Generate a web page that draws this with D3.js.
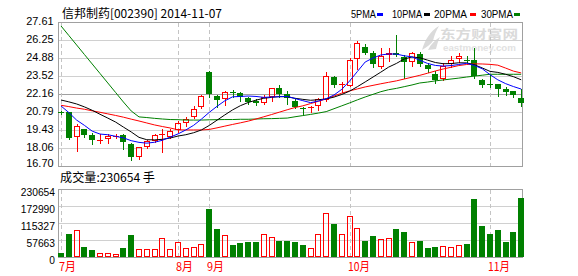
<!DOCTYPE html>
<html><head><meta charset="utf-8">
<script src="https://cdn.jsdelivr.net/npm/d3@7"></script>
<style>body{margin:0;background:#fff;} svg{display:block}</style>
</head><body><svg id="c" width="578" height="276"></svg>
<script>
// ---------- data ----------
const title = "信邦制药[002390] 2014-11-07";
const volTitle = "成交量:230654 手";
const priceTicks = [16.70, 18.06, 19.43, 20.79, 22.16, 23.52, 24.88, 26.25, 27.61];
const priceTickLabels = ["16.70","18.06","19.43","20.79","22.16","23.52","24.88","26.25","27.61"];
const volTicks = [0, 57663, 115327, 172990, 230654];
const volTickLabels = ["0","57663","115327","172990","230654"];
const monthLabels = ["7月","8月","9月","10月","11月"];
const monthStart = [0, 15, 19, 37, 55];
const legendNames = ["5PMA","10PMA","20PMA","30PMA"];

const open  = [20.79,20.79,18.92,19.50,19.03,18.60,18.72,18.92,19.05,18.36,17.36,18.16,18.62,19.03,18.90,19.43,19.94,20.39,21.15,23.82,
               22.00,21.75,22.28,22.21,21.85,21.62,21.45,21.95,22.61,22.13,21.62,21.10,21.08,21.28,21.69,23.46,22.83,22.79,24.80,25.74,
               25.26,24.20,25.09,25.26,24.96,24.57,25.19,24.36,23.67,23.30,24.41,24.82,24.75,24.70,23.24,22.92,22.94,22.56,22.36,21.87];
const high  = [20.89,20.82,19.88,19.52,19.18,19.15,19.10,19.10,19.10,18.42,18.15,18.65,19.10,19.53,19.48,20.13,20.39,21.25,22.08,23.87,
               22.05,22.38,22.44,22.28,21.95,21.78,22.05,22.62,22.84,22.36,21.75,21.17,21.27,21.85,23.83,23.55,23.08,24.88,26.18,25.92,
               25.40,25.66,25.62,26.60,25.10,25.35,25.30,24.50,23.90,24.48,25.02,25.24,25.00,25.62,23.30,23.60,22.95,22.65,22.42,22.55];
const low   = [20.62,18.77,17.86,18.92,18.39,18.47,18.47,18.80,17.99,17.16,17.25,18.06,18.55,17.78,18.85,19.30,19.75,20.35,21.07,21.95,
               21.15,21.32,21.95,21.62,21.40,21.32,21.40,21.65,21.95,21.41,21.10,20.66,20.81,20.95,21.60,22.69,22.30,22.75,24.08,25.20,
               24.22,24.15,24.68,25.04,23.40,24.25,24.30,23.85,22.99,23.20,24.20,24.58,24.56,23.38,22.65,22.65,22.04,22.10,21.95,21.22];
const close = [20.76,18.84,19.71,19.07,18.69,18.64,18.97,18.97,18.50,17.41,18.13,18.59,19.05,19.10,19.35,19.94,20.26,21.02,21.98,22.16,
               21.70,22.31,22.24,21.95,21.57,21.50,21.95,22.59,22.13,21.82,21.16,21.05,21.14,21.80,23.51,22.85,22.88,24.72,26.01,25.28,
               24.45,25.07,25.26,25.10,24.56,25.23,24.46,24.05,23.20,24.25,24.70,25.06,24.70,23.50,22.84,22.90,22.52,22.30,22.10,21.50];
const volume = [12400,77000,90500,32800,22600,14700,14700,11300,29400,73500,
                28300,26000,26000,65600,26000,52000,29400,35000,45200,161700,
                95000,75800,39600,46400,49700,49700,79100,69000,53100,53100,
                49700,39600,29400,79100,148100,110800,79100,140200,99500,53100,
                70100,59900,65600,93800,83700,52000,53100,29400,32800,38400,
                35000,41800,43000,195600,104000,76900,90500,49700,83700,199000];
const ma5  = [21.25,20.75,20.18,19.78,19.34,19.12,19.07,18.95,18.83,18.62,18.49,18.43,18.50,18.65,18.89,19.13,19.43,19.78,20.25,20.76,
              21.22,21.64,21.94,21.97,22.00,21.97,21.90,21.93,21.95,21.97,21.81,21.65,21.50,21.62,21.80,22.08,22.51,23.14,23.86,24.58,
              24.88,25.11,25.19,25.18,25.05,24.97,24.71,24.47,24.32,24.27,24.31,24.39,24.48,24.32,24.07,23.62,23.23,22.94,22.72,22.53];
const ma10 = [21.70,21.56,21.40,21.18,20.92,20.62,20.33,20.03,19.65,19.28,18.87,18.69,18.68,18.72,18.82,18.97,19.07,19.22,19.43,19.77,
              20.17,20.57,20.95,21.27,21.51,21.69,21.83,21.90,21.96,21.95,21.83,21.75,21.68,21.72,21.78,21.92,22.12,22.37,22.71,23.07,
              23.44,23.81,24.19,24.47,24.81,24.96,24.90,24.72,24.54,24.45,24.46,24.52,24.51,24.37,24.13,23.87,23.79,23.65,23.47,23.23];
const ma20 = [21.30,21.20,21.09,21.00,20.88,20.77,20.65,20.53,20.40,20.25,20.11,19.96,19.81,19.69,19.58,19.44,19.43,19.43,19.43,19.47,
              19.59,19.72,19.85,19.97,20.10,20.26,20.43,20.60,20.78,20.96,21.13,21.26,21.43,21.60,21.78,22.00,22.22,22.39,22.54,22.69,
              22.81,22.93,23.04,23.15,23.29,23.43,23.57,23.73,23.90,24.05,24.18,24.31,24.39,24.44,24.43,24.40,24.34,24.12,23.89,23.75];
const ma30 = [27.31,26.59,25.87,25.15,24.43,23.71,22.99,22.27,21.55,20.87,20.42,20.37,20.31,20.26,20.22,20.21,20.18,20.18,20.18,20.20,
              20.21,20.22,20.22,20.24,20.24,20.26,20.28,20.29,20.31,20.33,20.43,20.52,20.61,20.71,20.82,21.04,21.26,21.48,21.71,21.93,
              22.13,22.33,22.48,22.58,22.71,22.84,22.99,23.06,23.15,23.22,23.29,23.36,23.44,23.51,23.58,23.65,23.65,23.65,23.65,23.65];

// ---------- layout ----------
const L = 58, R = 522, PT = 22, PB = 166, VT = 189, VB = 257;
const RED = "#ff0000", GREEN = "#008000";
const GRID = "#d0d0d0", FRAME = "#a0a0a0";
const svg = d3.select("#c");
const x = d3.scaleLinear().domain([0, close.length - 1]).range([61, 521.2]);
const yP = d3.scaleLinear().domain([16.70, 27.61]).range([PB, PT]);
const yV = d3.scaleLinear().domain([0, 230654]).range([VB, VT]);
const cx = i => Math.round(x(i));
const numFont = "'Liberation Sans', Arial, sans-serif";
const cjkFont = "'Noto Sans CJK SC', 'Liberation Sans', sans-serif";

// watermark
const wm = svg.append("g").attr("fill", "#dadada");
wm.append("path").attr("d", "M422,50 C425,40 430,31 439,26 C436,31 434,36 433,41 C431,44 427,47 422,50 Z");
wm.append("path").attr("d", "M428,50 C431,44 435,40 440,37 C438,41 437,45 436,49 Z");
wm.append("text").attr("x", 440).attr("y", 38.5).attr("font-family", cjkFont).attr("font-weight", "bold")
  .attr("font-size", 12).attr("textLength", 78).attr("lengthAdjust", "spacingAndGlyphs").text("东方财富网");
wm.append("text").attr("x", 443).attr("y", 50.5).attr("font-family", numFont).attr("font-weight", "bold")
  .attr("font-size", 8.5).attr("fill", "#e2e2e2").attr("textLength", 73).attr("lengthAdjust", "spacingAndGlyphs").text("eastmoney.com");

// grid lines
function grid(ticks, ys, top, bottom, midIndex) {
  ticks.forEach((t, k) => {
    const yy = Math.round(ys(t)) + 0.5;
    let col = GRID;
    if (k === 0 || k === ticks.length - 1) col = FRAME;
    if (k === midIndex) col = FRAME;
    svg.append("line").attr("x1", L).attr("x2", R).attr("y1", yy).attr("y2", yy)
      .attr("stroke", col).attr("stroke-width", 1).attr("shape-rendering", "crispEdges");
  });
  [L + 0.5, R + 0.5].forEach(xx => svg.append("line").attr("x1", xx).attr("x2", xx)
    .attr("y1", top).attr("y2", bottom + 1).attr("stroke", FRAME).attr("shape-rendering", "crispEdges"));
  monthStart.forEach(i => svg.append("line").attr("x1", cx(i) + 0.5).attr("x2", cx(i) + 0.5)
    .attr("y1", top + 1).attr("y2", bottom).attr("stroke", "#c4c4c4").attr("stroke-dasharray", "4,3")
    .attr("shape-rendering", "crispEdges"));
}
grid(priceTicks, yP, PT, PB, 4);
grid(volTicks, yV, VT, VB, -1);

// axis labels
priceTicks.forEach((t, k) => {
  const lab = priceTickLabels[k];
  svg.append("text").attr("x", 53.5).attr("y", Math.round(yP(t)) + (k === 0 ? 1 : 2.5))
    .attr("text-anchor", "end").attr("font-family", numFont).attr("font-size", 11).attr("fill", "#000")
    .attr("textLength", lab.length * 5.45).attr("lengthAdjust", "spacingAndGlyphs").text(lab);
});
volTicks.forEach((t, k) => {
  const lab = volTickLabels[k];
  svg.append("text").attr("x", 55).attr("y", Math.round(yV(t)) + 7)
    .attr("text-anchor", "end").attr("font-family", numFont).attr("font-size", 11).attr("fill", "#000")
    .attr("textLength", lab.length * 5.7).attr("lengthAdjust", "spacingAndGlyphs").text(lab);
});
monthLabels.forEach((m, k) => {
  svg.append("text").attr("x", cx(monthStart[k]) - 2).attr("y", 271).attr("font-family", cjkFont)
    .attr("font-size", 12).attr("fill", RED).attr("textLength", m.length === 2 ? 17 : 22)
    .attr("lengthAdjust", "spacingAndGlyphs").text(m);
});

// titles
svg.append("text").attr("x", 62).attr("y", 18).attr("font-family", cjkFont).attr("font-size", 12)
  .attr("textLength", 160).attr("lengthAdjust", "spacingAndGlyphs").text(title);
svg.append("text").attr("x", 60).attr("y", 182).attr("font-family", cjkFont).attr("font-size", 12)
  .attr("textLength", 95).attr("lengthAdjust", "spacingAndGlyphs").text(volTitle);

// legend
const legX = [351, 392, 434, 481], legW = [25, 30, 33, 32], legM = [377, 424, 470, 514];
const maColors = ["#0000ff", "#000000", "#ff0000", "#008000"];
legendNames.forEach((n, k) => {
  svg.append("text").attr("x", legX[k]).attr("y", 18).attr("font-family", numFont).attr("font-size", 11.5)
    .attr("textLength", legW[k]).attr("lengthAdjust", "spacingAndGlyphs").text(n);
  svg.append("rect").attr("x", legM[k]).attr("y", 13).attr("width", 6).attr("height", 3).attr("fill", maColors[k]);
});

// candles
const cg = svg.append("g").attr("shape-rendering", "crispEdges");
close.forEach((c, i) => {
  const o = open[i], up = c > o, col = up ? RED : GREEN, xc = cx(i);
  const top = Math.round(yP(Math.max(o, c))), bot = Math.round(yP(Math.min(o, c)));
  const yh = Math.round(yP(high[i])), yl = Math.round(yP(low[i]));
  if (bot - top <= 1) {
    cg.append("line").attr("x1", xc + 0.5).attr("x2", xc + 0.5).attr("y1", yh).attr("y2", yl + 1).attr("stroke", col);
    cg.append("line").attr("x1", xc - 3).attr("x2", xc + 3).attr("y1", top + 0.5).attr("y2", top + 0.5).attr("stroke", col);
  } else if (up) {
    cg.append("line").attr("x1", xc + 0.5).attr("x2", xc + 0.5).attr("y1", yh).attr("y2", top).attr("stroke", col);
    cg.append("line").attr("x1", xc + 0.5).attr("x2", xc + 0.5).attr("y1", bot).attr("y2", yl + 1).attr("stroke", col);
    cg.append("rect").attr("x", xc - 2.5).attr("y", top + 0.5).attr("width", 5).attr("height", bot - top - 1)
      .attr("fill", "none").attr("stroke", col);
  } else {
    cg.append("line").attr("x1", xc + 0.5).attr("x2", xc + 0.5).attr("y1", yh).attr("y2", yl + 1).attr("stroke", col);
    cg.append("rect").attr("x", xc - 3).attr("y", top).attr("width", 6).attr("height", bot - top).attr("fill", col);
  }
});

// moving averages
const line = d3.line().x((d, i) => x(i)).y(d => yP(d));
[ma30, ma20, ma10, ma5].forEach((arr, k) => {
  svg.append("path").attr("d", line(arr)).attr("fill", "none")
    .attr("stroke", maColors[3 - k]).attr("stroke-width", 1);
});

// volume bars
const vg = svg.append("g").attr("shape-rendering", "crispEdges");
volume.forEach((v, i) => {
  const up = close[i] > open[i], xc = cx(i), top = Math.round(yV(v));
  if (up) {
    vg.append("rect").attr("x", xc - 2.5).attr("y", top + 0.5).attr("width", 5).attr("height", VB - top - 1)
      .attr("fill", "none").attr("stroke", RED);
  } else {
    vg.append("rect").attr("x", xc - 3).attr("y", top).attr("width", 6).attr("height", VB - top).attr("fill", GREEN);
  }
});
</script></body></html>
